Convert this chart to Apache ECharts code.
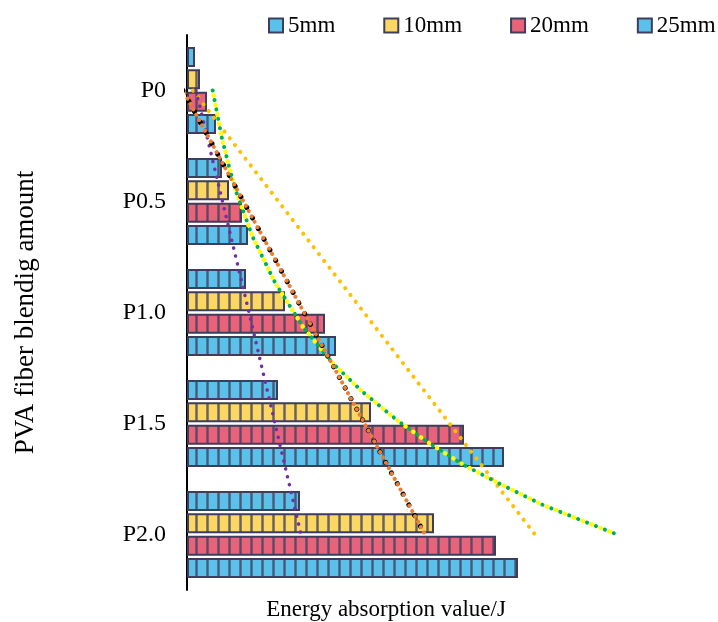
<!DOCTYPE html>
<html>
<head>
<meta charset="utf-8">
<script src="https://cdn.jsdelivr.net/npm/echarts@6/dist/echarts.min.js"></script>
<style>html,body{margin:0;padding:0;background:#fff}#c{width:718px;height:622px}</style>
</head>
<body>
<div id="c"></div>
<script>
// ---- data ----
const categories = ['P0', 'P0.5', 'P1.0', 'P1.5', 'P2.0'];
const seriesNames = ['5mm', '10mm', '20mm', '25mm'];
const v5mm = [8, 35, 59, 91, 113];
const v10mm = [13, 42, 98, 184, 247];
const v20mm = [20, 55, 138, 277, 309];
const v25mm = [29, 61, 149, 317, 331];
// trend lines: [value, category position]
const trend5Linear = [[9, 0], [62, 2], [114, 4]];
const trend10Linear = [[-4, 0], [117, 2], [238, 4]];
const trend20Exp = [[25.7, 0], [34.7, 0.42], [42.7, 0.71], [49, 0.91], [65.7, 1.32], [88, 1.73], [116, 2.13], [146, 2.46], [175, 2.71], [210, 2.97], [241, 3.17], [276, 3.37], [312, 3.54], [355, 3.73], [391, 3.86], [430, 4.0]];
const trend25Linear = [[6, 0], [177, 2], [348, 4]];

const FONT = "'Liberation Serif', 'Times New Roman', serif";
const BORDER = '#3d3e5c';
const COLORS = { blue: '#5BC0EA', yellow: '#FDD763', red: '#E8637A' };

function makePattern(color) {
  const cv = document.createElement('canvas');
  cv.width = 11; cv.height = 20;
  const ctx = cv.getContext('2d');
  ctx.fillStyle = color; ctx.fillRect(0, 0, 11, 20);
  ctx.fillStyle = 'rgba(70,70,100,0.6)'; ctx.fillRect(8, 0, 3, 20);
  ctx.fillStyle = 'rgba(50,50,80,0.4)'; ctx.fillRect(9, 0, 1, 20);
  return { image: cv, repeat: 'repeat' };
}

const barColors = [COLORS.blue, COLORS.yellow, COLORS.red, COLORS.blue];
const barValues = [v5mm, v10mm, v20mm, v25mm];

const barSeries = seriesNames.map((n, i) => ({
  name: n, type: 'bar', yAxisIndex: 0, data: barValues[i],
  barWidth: 20, barGap: '12%',
  itemStyle: { color: makePattern(barColors[i]), borderColor: BORDER, borderWidth: 2 },
  z: 2
}));

function dotLine(data, color, width, gap, offset, z) {
  return {
    type: 'line', yAxisIndex: 1, data: data, symbol: 'none', clip: false, silent: true,
    lineStyle: { color: color, width: width, type: [0.1, gap], cap: 'round', dashOffset: offset },
    z: z
  };
}

const lineSeries = [
  dotLine(trend25Linear, '#FFC000', 4, 8.5, 0, 5),
  dotLine(trend20Exp, '#FFFF00', 4.5, 9.5, 4.5, 5),
  dotLine(trend20Exp, '#00B050', 4, 9.5, 0, 6),
  dotLine(trend5Linear, '#7030A0', 3.5, 8, 0, 5),
  dotLine(trend10Linear, '#000000', 5, 12, 0, 5),
  dotLine(trend10Linear, '#ED7D31', 4, 6, 3, 6)
];

const chart = echarts.init(document.getElementById('c'));
chart.setOption({
  animation: false,
  backgroundColor: '#fff',
  legend: {
    top: 9, left: 263, width: 455, itemWidth: 14, itemHeight: 14, itemGap: 48,
    textStyle: { fontFamily: FONT, fontSize: 23, color: '#000' },
    data: seriesNames.map((n, i) => ({
      name: n, icon: 'rect',
      itemStyle: { color: barColors[i], borderColor: BORDER, borderWidth: 2 }
    }))
  },
  grid: { left: 187, right: 31, top: 35, bottom: 32, outerBoundsMode: 'none', containLabel: false },
  xAxis: {
    type: 'value', min: 0, max: 500,
    name: 'Energy absorption value/J', nameLocation: 'middle', nameGap: 8,
    nameTextStyle: { fontFamily: FONT, fontSize: 23, color: '#000', verticalAlign: 'top', padding: [0, 102, 0, 0] },
    axisLine: { show: false }, axisTick: { show: false }, axisLabel: { show: false }, splitLine: { show: false }
  },
  yAxis: [{
    type: 'category', data: categories, inverse: true,
    name: 'PVA fiber blendig amount', nameLocation: 'middle', nameGap: 148, nameRotate: 90,
    nameTextStyle: { fontFamily: FONT, fontSize: 27, color: '#000' },
    axisLine: { show: true, lineStyle: { color: '#000', width: 2 } },
    axisTick: { show: false },
    axisLabel: { fontFamily: FONT, fontSize: 24, color: '#000', margin: 21 },
    splitLine: { show: false }
  }, {
    type: 'value', min: -0.5, max: 4.5, inverse: true, show: false
  }],
  series: barSeries.concat(lineSeries)
});
</script>
</body>
</html>
